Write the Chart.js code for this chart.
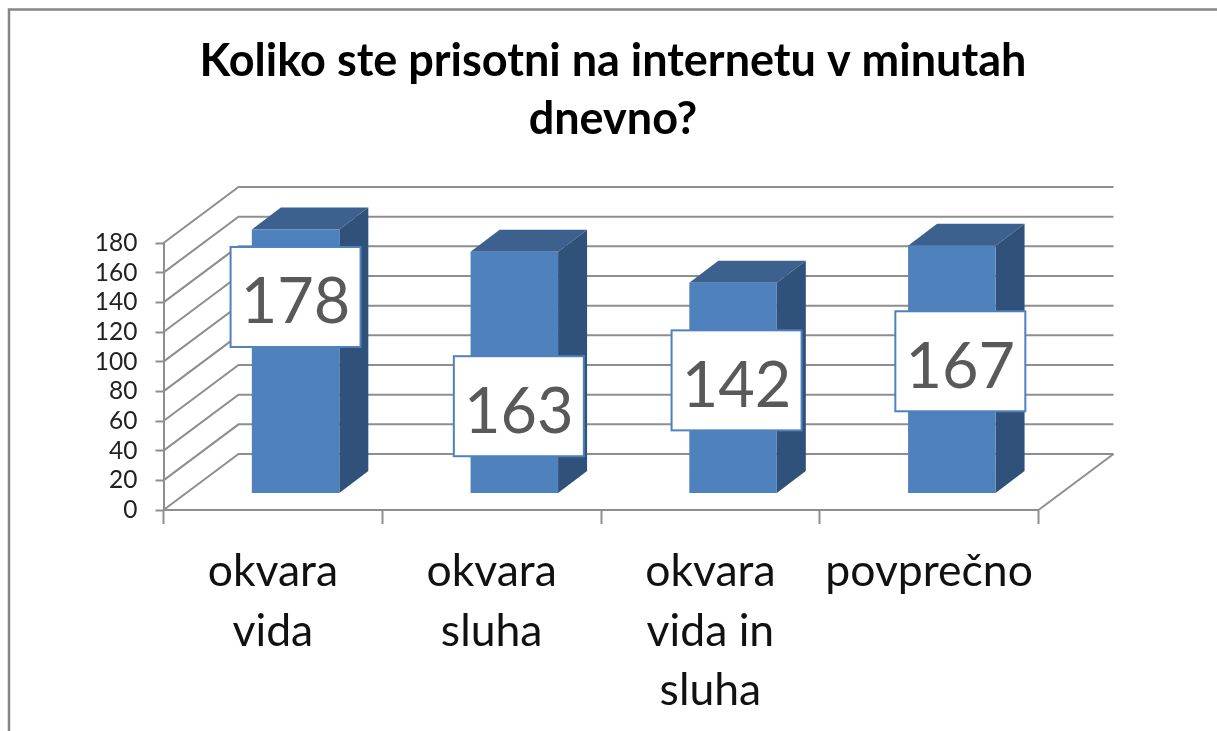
<!DOCTYPE html>
<html><head><meta charset="utf-8">
<style>html,body{margin:0;padding:0;background:#fff}canvas{display:block}</style>
<script src="https://cdn.jsdelivr.net/npm/chart.js@4"></script>
</head><body><canvas id="c" width="1217" height="731"></canvas>
<script>
const titleLines = ['Koliko ste prisotni na internetu v minutah', 'dnevno?'];
const categories = [['okvara', 'vida'], ['okvara', 'sluha'], ['okvara', 'vida in', 'sluha'], ['povprečno']];
const values = [178, 163, 142, 167];
const yMax = 180;
const yStep = 20;

const FONT = 'Lato';
const GRID = '#8e8e8e';
const WALL = {dx: 75, dy: -56};
const BAR_SHIFT = {dx: 22.7, dy: -16.5};
const BAR_DEPTH = {dx: 29, dy: -22};
const LABEL_SHIFT = [{dx: 0, dy: 67.5}, {dx: 4.5, dy: 154.5}, {dx: 3.5, dy: 97.5}, {dx: 8.5, dy: 115.5}];

function line(ctx, pts, color, w) {
  ctx.beginPath();
  pts.forEach((p, i) => i ? ctx.lineTo(p[0], p[1]) : ctx.moveTo(p[0], p[1]));
  ctx.strokeStyle = color; ctx.lineWidth = w; ctx.stroke();
}
function poly(ctx, pts, color) {
  ctx.beginPath();
  pts.forEach((p, i) => i ? ctx.lineTo(p[0], p[1]) : ctx.moveTo(p[0], p[1]));
  ctx.closePath(); ctx.fillStyle = color; ctx.fill();
}

const bar3d = {
  id: 'bar3d',
  beforeDraw(chart) {
    const ctx = chart.ctx;
    line(ctx, [[9, 731], [9, 9.5], [1217, 9.5]], '#868686', 2.5);
  },
  afterLayout(chart) {
    chart.titleBlock.left = 9; chart.titleBlock.right = 1217;
  },
  beforeDatasetsDraw(chart) {
    const ctx = chart.ctx, y = chart.scales.y, a = chart.chartArea;
    y.ticks.forEach(t => {
      const py = y.getPixelForValue(t.value);
      line(ctx, [[a.left, py], [a.left + WALL.dx, py + WALL.dy], [a.right + WALL.dx, py + WALL.dy]], GRID, 2);
    });
    line(ctx, [[a.right, a.bottom], [a.right + WALL.dx, a.bottom + WALL.dy]], GRID, 2);
  },
  beforeDatasetDraw(chart, args) {
    const ctx = chart.ctx, d = BAR_DEPTH;
    ctx.save();
    ctx.translate(BAR_SHIFT.dx, BAR_SHIFT.dy);
    args.meta.data.forEach(b => {
      const {x, y, base, width} = b.getProps(['x', 'y', 'base', 'width'], true);
      const l = x - width / 2, r = x + width / 2;
      poly(ctx, [[l, y], [l + d.dx, y + d.dy], [r + d.dx, y + d.dy], [r, y]], '#3c618f');
      poly(ctx, [[r, y], [r + d.dx, y + d.dy], [r + d.dx, base + d.dy], [r, base]], '#30527a');
    });
  },
  afterDatasetDraw(chart) { chart.ctx.restore(); },
  afterDatasetsDraw(chart) {
    const ctx = chart.ctx, meta = chart.getDatasetMeta(0);
    values.forEach((v, i) => {
      const b = meta.data[i];
      const cx = b.x + BAR_SHIFT.dx + LABEL_SHIFT[i].dx;
      const cy = b.y + BAR_SHIFT.dy + LABEL_SHIFT[i].dy;
      const w = 130, h = 100;
      ctx.fillStyle = '#fff';
      ctx.fillRect(cx - w / 2, cy - h / 2, w, h);
      ctx.strokeStyle = '#4f81bd'; ctx.lineWidth = 2;
      ctx.strokeRect(cx - w / 2, cy - h / 2, w, h);
      ctx.fillStyle = '#595959';
      ctx.font = '63px ' + FONT;
      ctx.textAlign = 'center'; ctx.textBaseline = 'middle';
      ctx.fillText(String(v), cx, cy + 6);
    });
  }
};

new Chart(document.getElementById('c'), {
  type: 'bar',
  plugins: [bar3d],
  data: {
    labels: categories,
    datasets: [{
      data: values,
      backgroundColor: '#4f81bd',
      borderWidth: 0,
      barPercentage: 0.4,
      categoryPercentage: 1
    }]
  },
  options: {
    responsive: false,
    animation: false,
    layout: {padding: {left: 0, right: 178.5, top: 0, bottom: 0}},
    plugins: {
      legend: {display: false},
      tooltip: {enabled: false},
      title: {
        display: true,
        text: titleLines,
        color: '#000',
        font: {family: FONT, size: 45, weight: 'bold', lineHeight: '58px'},
        padding: {top: 32, bottom: 95}
      }
    },
    scales: {
      x: {
        afterFit(s) { s.height = 221; },
        border: {display: true, color: GRID, width: 2},
        grid: {display: true, drawOnChartArea: false, drawTicks: true, tickLength: 14, tickWidth: 2, tickColor: GRID, offset: true},
        ticks: {autoSkip: false, maxRotation: 0, minRotation: 0, padding: 18, color: '#111',
          font: {family: FONT, size: 44.5, lineHeight: '59.5px'}}
      },
      y: {
        min: 0, max: yMax,
        afterFit(s) { s.width = 163.5; },
        border: {display: true, color: GRID, width: 2},
        grid: {display: true, drawOnChartArea: false, drawTicks: true, tickLength: 8, tickWidth: 2, tickColor: GRID},
        ticks: {autoSkip: false, stepSize: yStep, padding: 18, color: '#222', font: {family: FONT, size: 24.5}}
      }
    }
  }
});
</script></body></html>
